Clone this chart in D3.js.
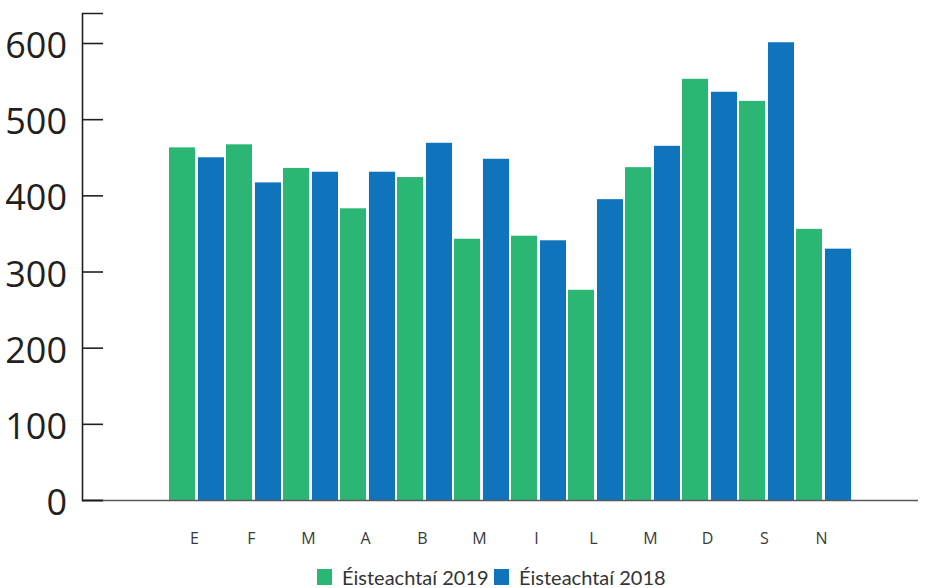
<!doctype html>
<html>
<head>
<meta charset="utf-8">
<title></title>
<style>
body{ margin:0; background:#fff; }
text{ fill:#231f20; }
</style>
</head>
<body>
<svg></svg>
<script src="https://cdn.jsdelivr.net/npm/d3@7"></script>
<script>
var categories = ['E','F','M','A','B','M','I','L','M','D','S','N'];
var values2019 = [463,467,436,383,424,343,347,276,437,553,524,356];
var values2018 = [450,417,431,431,469,448,341,395,465,536,601,330];
var seriesNames = ['Éisteachtaí 2019','Éisteachtaí 2018'];
var yTicks = [0,100,200,300,400,500,600];

var width = 931, height = 588;
var colors = ['#2bb673','#1074bc'];

var svg = d3.select('svg').attr('width',width).attr('height',height);

var idx = d3.range(categories.length);
var x0 = d3.scaleBand().domain(idx).range([168,852]);
var x1 = d3.scaleBand().domain([0,1]).range([1,56]).paddingInner(0.1);
var y = d3.scaleLinear().domain([0,639.4]).range([500,13]);

var rows = idx.map(function(i){ return [values2019[i], values2018[i]]; });

// bars
var grp = svg.append('g').selectAll('g')
    .data(rows)
    .enter().append('g')
    .attr('transform', function(d,i){ return 'translate(' + x0(i) + ',0)'; });
grp.selectAll('rect')
    .data(function(d){ return d; })
    .enter().append('rect')
    .attr('x', function(d,j){ return x1(j); })
    .attr('width', x1.bandwidth())
    .attr('y', function(d){ return y(d); })
    .attr('height', function(d){ return y(0) - y(d); })
    .attr('fill', function(d,j){ return colors[j]; });

// x axis line
svg.append('line')
    .attr('x1',82).attr('x2',918)
    .attr('y1',y(0)+0.5).attr('y2',y(0)+0.5)
    .attr('stroke','#58595b').attr('stroke-width',1.6);

// y axis
var yAxis = d3.axisRight(y).tickValues(yTicks).tickSize(21).tickFormat('');
var ya = svg.append('g').attr('transform','translate(82,0)').call(yAxis);
ya.select('.domain').attr('stroke','#231f20').attr('stroke-width',1.6);
ya.selectAll('.tick line').attr('stroke','#231f20').attr('stroke-width',1.6);

svg.append('g').selectAll('text')
    .data(yTicks)
    .enter().append('text')
    .attr('x',67)
    .attr('y', function(d){ return y(d); })
    .attr('dy','0.42em')
    .attr('text-anchor','end')
    .style('font-family','"Open Sans", sans-serif')
    .style('font-size','36px')
    .text(function(d){ return d; });

// category labels
svg.append('g').selectAll('text')
    .data(idx)
    .enter().append('text')
    .attr('x', function(i){ return x0(i) + x0.bandwidth()/2 - 2; })
    .attr('y',544)
    .attr('text-anchor','middle')
    .style('font-family','"Open Sans", sans-serif')
    .style('font-size','16px')
    .style('fill','#3a3a3a')
    .text(function(i){ return categories[i]; });

// legend
var legX = [317, 494];
var leg = svg.append('g').selectAll('g')
    .data(seriesNames)
    .enter().append('g')
    .attr('transform', function(d,i){ return 'translate(' + legX[i] + ',569)'; });
leg.append('rect')
    .attr('width',15).attr('height',16)
    .attr('fill', function(d,i){ return colors[i]; });
leg.append('text')
    .attr('x',25).attr('y',15.5)
    .style('font-family','Lato, sans-serif')
    .style('font-size','20px')
    .style('fill','#333')
    .text(function(d){ return d; });
</script>
</body>
</html>
